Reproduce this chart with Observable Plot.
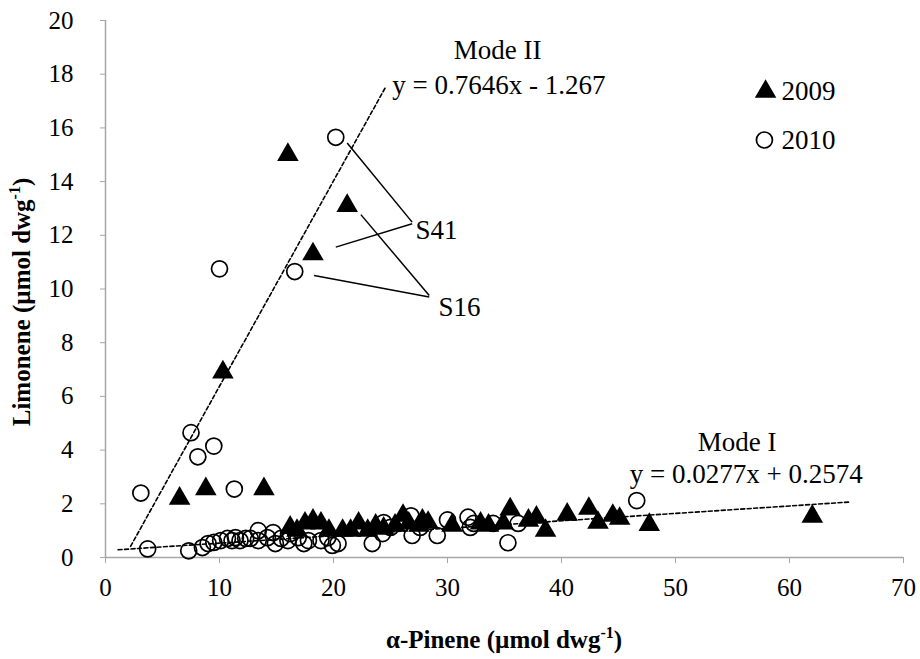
<!DOCTYPE html>
<html>
<head>
<meta charset="utf-8">
<script src="https://cdn.jsdelivr.net/npm/d3@7"></script>
<script src="https://cdn.jsdelivr.net/npm/@observablehq/plot@0.6"></script>
<style>
  html, body { margin: 0; padding: 0; background: #fff; }
  #chart svg { display: block; }
  #chart svg text { font-family: 'Liberation Serif', 'Times New Roman', serif; }
</style>
</head>
<body>
<div id="chart"></div>
<script>
// ---- Data ----
const years = ["2009", "2010"];

// 2009 (filled triangles)
const pinene2009 = [16.0, 21.2, 18.2, 10.3, 6.5, 8.8, 13.9,
  16.2, 16.8, 17.5, 18.2, 18.9, 19.6, 20.8, 21.5, 22.2, 23.0, 23.7, 24.4, 25.4, 26.1, 26.6,
  27.5, 27.8, 28.3, 30.4, 32.9, 33.6, 34.9, 35.5, 37.1, 37.8, 38.6, 40.5, 42.4, 43.2, 44.5,
  45.1, 47.7, 62.0];
const limonene2009 = [15.0, 13.1, 11.3, 6.9, 2.2, 2.55, 2.55,
  1.12, 1.0, 1.27, 1.38, 1.27, 1.0, 1.0, 1.0, 1.27, 1.0, 1.19, 1.08, 1.19, 1.56, 1.27,
  1.19, 1.38, 1.30, 1.19, 1.27, 1.19, 1.27, 1.80, 1.38, 1.49, 1.0, 1.60, 1.82, 1.30, 1.56,
  1.45, 1.22, 1.53];

// 2010 (open circles)
const pinene2010 = [20.2, 16.6, 10.0, 7.5, 8.1, 9.5, 11.3, 3.1,
  3.7, 7.3, 8.5, 9.0, 9.5, 10.1, 10.7, 11.1, 11.4, 11.8, 12.3, 12.7, 13.4, 13.4, 14.2, 14.7,
  14.9, 15.4, 16.0, 16.2, 16.9, 17.4, 17.8, 18.9, 19.5, 19.9, 20.4, 23.4, 24.4, 24.3, 25.0,
  26.8, 26.9, 27.6, 29.1, 30.0, 31.8, 32.0, 32.3, 34.0, 36.2, 35.3, 46.6];
const limonene2010 = [15.65, 10.65, 10.75, 4.65, 3.75, 4.15, 2.55, 2.4,
  0.32, 0.25, 0.37, 0.52, 0.56, 0.63, 0.71, 0.63, 0.74, 0.63, 0.71, 0.71, 1.0, 0.63, 0.74, 0.93,
  0.52, 0.71, 0.63, 0.89, 0.74, 0.52, 0.63, 0.63, 0.74, 0.45, 0.52, 0.52, 1.30, 0.89, 1.12,
  1.55, 0.82, 1.12, 0.82, 1.40, 1.50, 1.12, 1.27, 1.27, 1.27, 0.55, 2.12];

// Regression lines (from the equations printed on the chart)
const modeNames = ["Mode I", "Mode II"];
const modeSlopes = [0.0277, 0.7646];
const modeIntercepts = [0.2574, -1.267];
const modeXStart = [1.1, 2.2];
const modeXEnd = [65.2, 24.6];
const modeEquations = ["y = 0.0277x + 0.2574", "y = 0.7646x - 1.267"];

// Sample labels with leader lines
const sampleLabels = ["S41", "S16"];
const sampleLabelX = [27.2, 29.2];
const sampleLabelY = [12.2, 9.3];
const leaderSample = ["S41", "S41", "S16", "S16"];
const leaderX1 = [21.2, 20.2, 22.4, 18.3];
const leaderY1 = [15.44, 11.56, 12.77, 10.5];
const leaderX2 = [26.9, 26.9, 28.4, 28.4];
const leaderY2 = [12.49, 12.43, 9.76, 9.70];

// Axis ticks
const xTicks = [0, 10, 20, 30, 40, 50, 60, 70];
const yTicks = [0, 2, 4, 6, 8, 10, 12, 14, 16, 18, 20];

// ---- Build tables ----
const d2009 = pinene2009.map((x, i) => ({x, y: limonene2009[i]}));
const d2010 = pinene2010.map((x, i) => ({x, y: limonene2010[i]}));
const lines = modeNames.flatMap((m, i) => [
  {mode: m, x: modeXStart[i], y: modeSlopes[i] * modeXStart[i] + modeIntercepts[i]},
  {mode: m, x: modeXEnd[i], y: modeSlopes[i] * modeXEnd[i] + modeIntercepts[i]}
]);
const leaders = leaderSample.map((s, i) => ({s, x1: leaderX1[i], y1: leaderY1[i], x2: leaderX2[i], y2: leaderY2[i]}));
const labels = sampleLabels.map((s, i) => ({s, x: sampleLabelX[i], y: sampleLabelY[i]}));
const modeText = [
  {t: modeNames[1], x: 34.4, y: 18.9},
  {t: modeEquations[1], x: 34.5, y: 17.6},
  {t: modeNames[0], x: 55.4, y: 4.3},
  {t: modeEquations[0], x: 56.2, y: 3.08}
];
const legend = [
  {year: years[0], x: 57.9, y: 17.35, tx: 59.3},
  {year: years[1], x: 57.8, y: 15.55, tx: 59.3}
];

const font = "'Liberation Serif', 'Times New Roman', serif";

const chart = Plot.plot({
  width: 920,
  height: 659,
  marginLeft: 105,
  marginRight: 17,
  marginTop: 20,
  marginBottom: 102,
  style: {fontFamily: font, fontSize: "25px", color: "black", background: "white"},
  x: {domain: [0, 70], label: null},
  y: {domain: [0, 20], label: null},
  marks: [
    Plot.ruleY([0], {stroke: "#a6a6a6", strokeWidth: 1.5}),
    Plot.ruleX([0], {stroke: "#a6a6a6", strokeWidth: 1.5}),
    Plot.axisX({ticks: xTicks, tickSize: 6, tickPadding: 15, stroke: "#a6a6a6", fill: "black", fontSize: 25, fontFamily: font, label: null}),
    Plot.axisY({ticks: yTicks, tickSize: 5, tickPadding: 27, stroke: "#a6a6a6", fill: "black", fontSize: 25, fontFamily: font, label: null}),
    Plot.line(lines, {x: "x", y: "y", z: "mode", stroke: "black", strokeWidth: 1.6, strokeDasharray: "4,2.5"}),
    Plot.dot(d2010, {x: "x", y: "y", r: 8, stroke: "black", strokeWidth: 1.7, fill: "none"}),
    Plot.dot(d2009, {x: "x", y: "y", symbol: "triangle", r: 8, fill: "black", stroke: "none"}),
    Plot.link(leaders, {x1: "x1", y1: "y1", x2: "x2", y2: "y2", stroke: "black", strokeWidth: 1.5}),
    Plot.text(labels, {x: "x", y: "y", text: "s", textAnchor: "start", fontSize: 27, fontFamily: font, fill: "black"}),
    Plot.text(modeText, {x: "x", y: "y", text: "t", textAnchor: "middle", fontSize: 27, fontFamily: font, fill: "black"}),
    Plot.dot(legend.slice(0, 1), {x: "x", y: "y", symbol: "triangle", r: 8, fill: "black", stroke: "none"}),
    Plot.dot(legend.slice(1), {x: "x", y: "y", r: 8, stroke: "black", strokeWidth: 1.7, fill: "none"}),
    Plot.text(legend, {x: "tx", y: "y", text: "year", textAnchor: "start", fontSize: 27, fontFamily: font, fill: "black"})
  ]
});

document.getElementById("chart").appendChild(chart);

// Axis titles with superscripts
const svg = d3.select(chart);
const xt = svg.append("text")
  .attr("x", 504).attr("y", 648)
  .attr("text-anchor", "middle")
  .attr("font-family", font).attr("font-size", 25).attr("font-weight", "bold").attr("fill", "black");
xt.append("tspan").text("α-Pinene (µmol dwg");
xt.append("tspan").attr("dy", -10).attr("font-size", 16).text("-1");
xt.append("tspan").attr("dy", 10).text(")");

const yt = svg.append("text")
  .attr("transform", "translate(30,302) rotate(-90)")
  .attr("text-anchor", "middle")
  .attr("font-family", font).attr("font-size", 25).attr("font-weight", "bold").attr("fill", "black");
yt.append("tspan").text("Limonene (µmol dwg");
yt.append("tspan").attr("dy", -10).attr("font-size", 16).text("-1");
yt.append("tspan").attr("dy", 10).text(")");
</script>
</body>
</html>
